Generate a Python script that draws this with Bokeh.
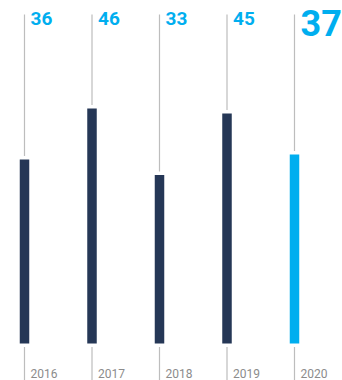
from bokeh.plotting import figure
from bokeh.models import Range1d, ColumnDataSource
from bokeh.core.properties import value
from bokeh.embed import file_html
from bokeh.resources import INLINE

years = ["2016", "2017", "2018", "2019", "2020"]
values = [36, 46, 33, 45, 37]
labels = ["36", "46", "33", "45", "37"]
bar_colors = ["#253756", "#253756", "#253756", "#253756", "#00AEEF"]

xs = list(range(len(years)))
s = 5.109  # px per unit
p = figure(width=342, height=380, output_backend="svg", toolbar_location=None,
           x_axis_type=None, y_axis_type=None, min_border=0,
           x_range=Range1d(-24 / 67.5, (342 - 24) / 67.5),
           y_range=Range1d(-37 / s, 343 / s))
p.outline_line_color = None
p.grid.visible = False
p.background_fill_color = "white"
p.border_fill_color = "white"

ytop = p.y_range.end
ybot = p.y_range.start
line_top = ytop - 14 / s

src = ColumnDataSource(dict(x=xs, v=values, c=bar_colors, lab=labels, yr=years,
                            lt=[line_top] * 5, lb=[ybot] * 5))

p.segment(x0="x", x1="x", y0="lb", y1="lt", source=src, line_color="#bdbdbd", line_width=1.2)
# white halo behind bars
p.vbar(x="x", top="v", bottom=0, width=9.5 / 67.5, source=src,
       fill_color="white", line_color="white", line_width=7)
p.vbar(x="x", top="v", bottom=0, width=9.5 / 67.5, source=src,
       fill_color="c", line_color=None)

small = ColumnDataSource(dict(x=xs[:4], lab=labels[:4], yt=[ytop] * 4))
big = ColumnDataSource(dict(x=xs[4:], lab=labels[4:], yt=[ytop]))
p.text(x="x", y="yt", text="lab", source=small, x_offset=6, y_offset=11,
       text_font=value("Roboto"), text_font_style="bold", text_font_size="19px",
       text_color="#00AEEF", text_baseline="top", text_align="left")
p.text(x="x", y="yt", text="lab", source=big, x_offset=6, y_offset=9,
       text_font=value("Roboto"), text_font_style="bold", text_font_size="36px",
       text_color="#00AEEF", text_baseline="top", text_align="left")

ysrc = ColumnDataSource(dict(x=xs, yr=years, yb=[ybot] * 5))
p.text(x="x", y="yb", text="yr", source=ysrc, x_offset=6, y_offset=-3,
       text_font=value("Roboto"), text_font_size="12px",
       text_color="#8c8c8c", text_baseline="bottom", text_align="left")

open("out.html", "w").write(file_html(p, INLINE))
